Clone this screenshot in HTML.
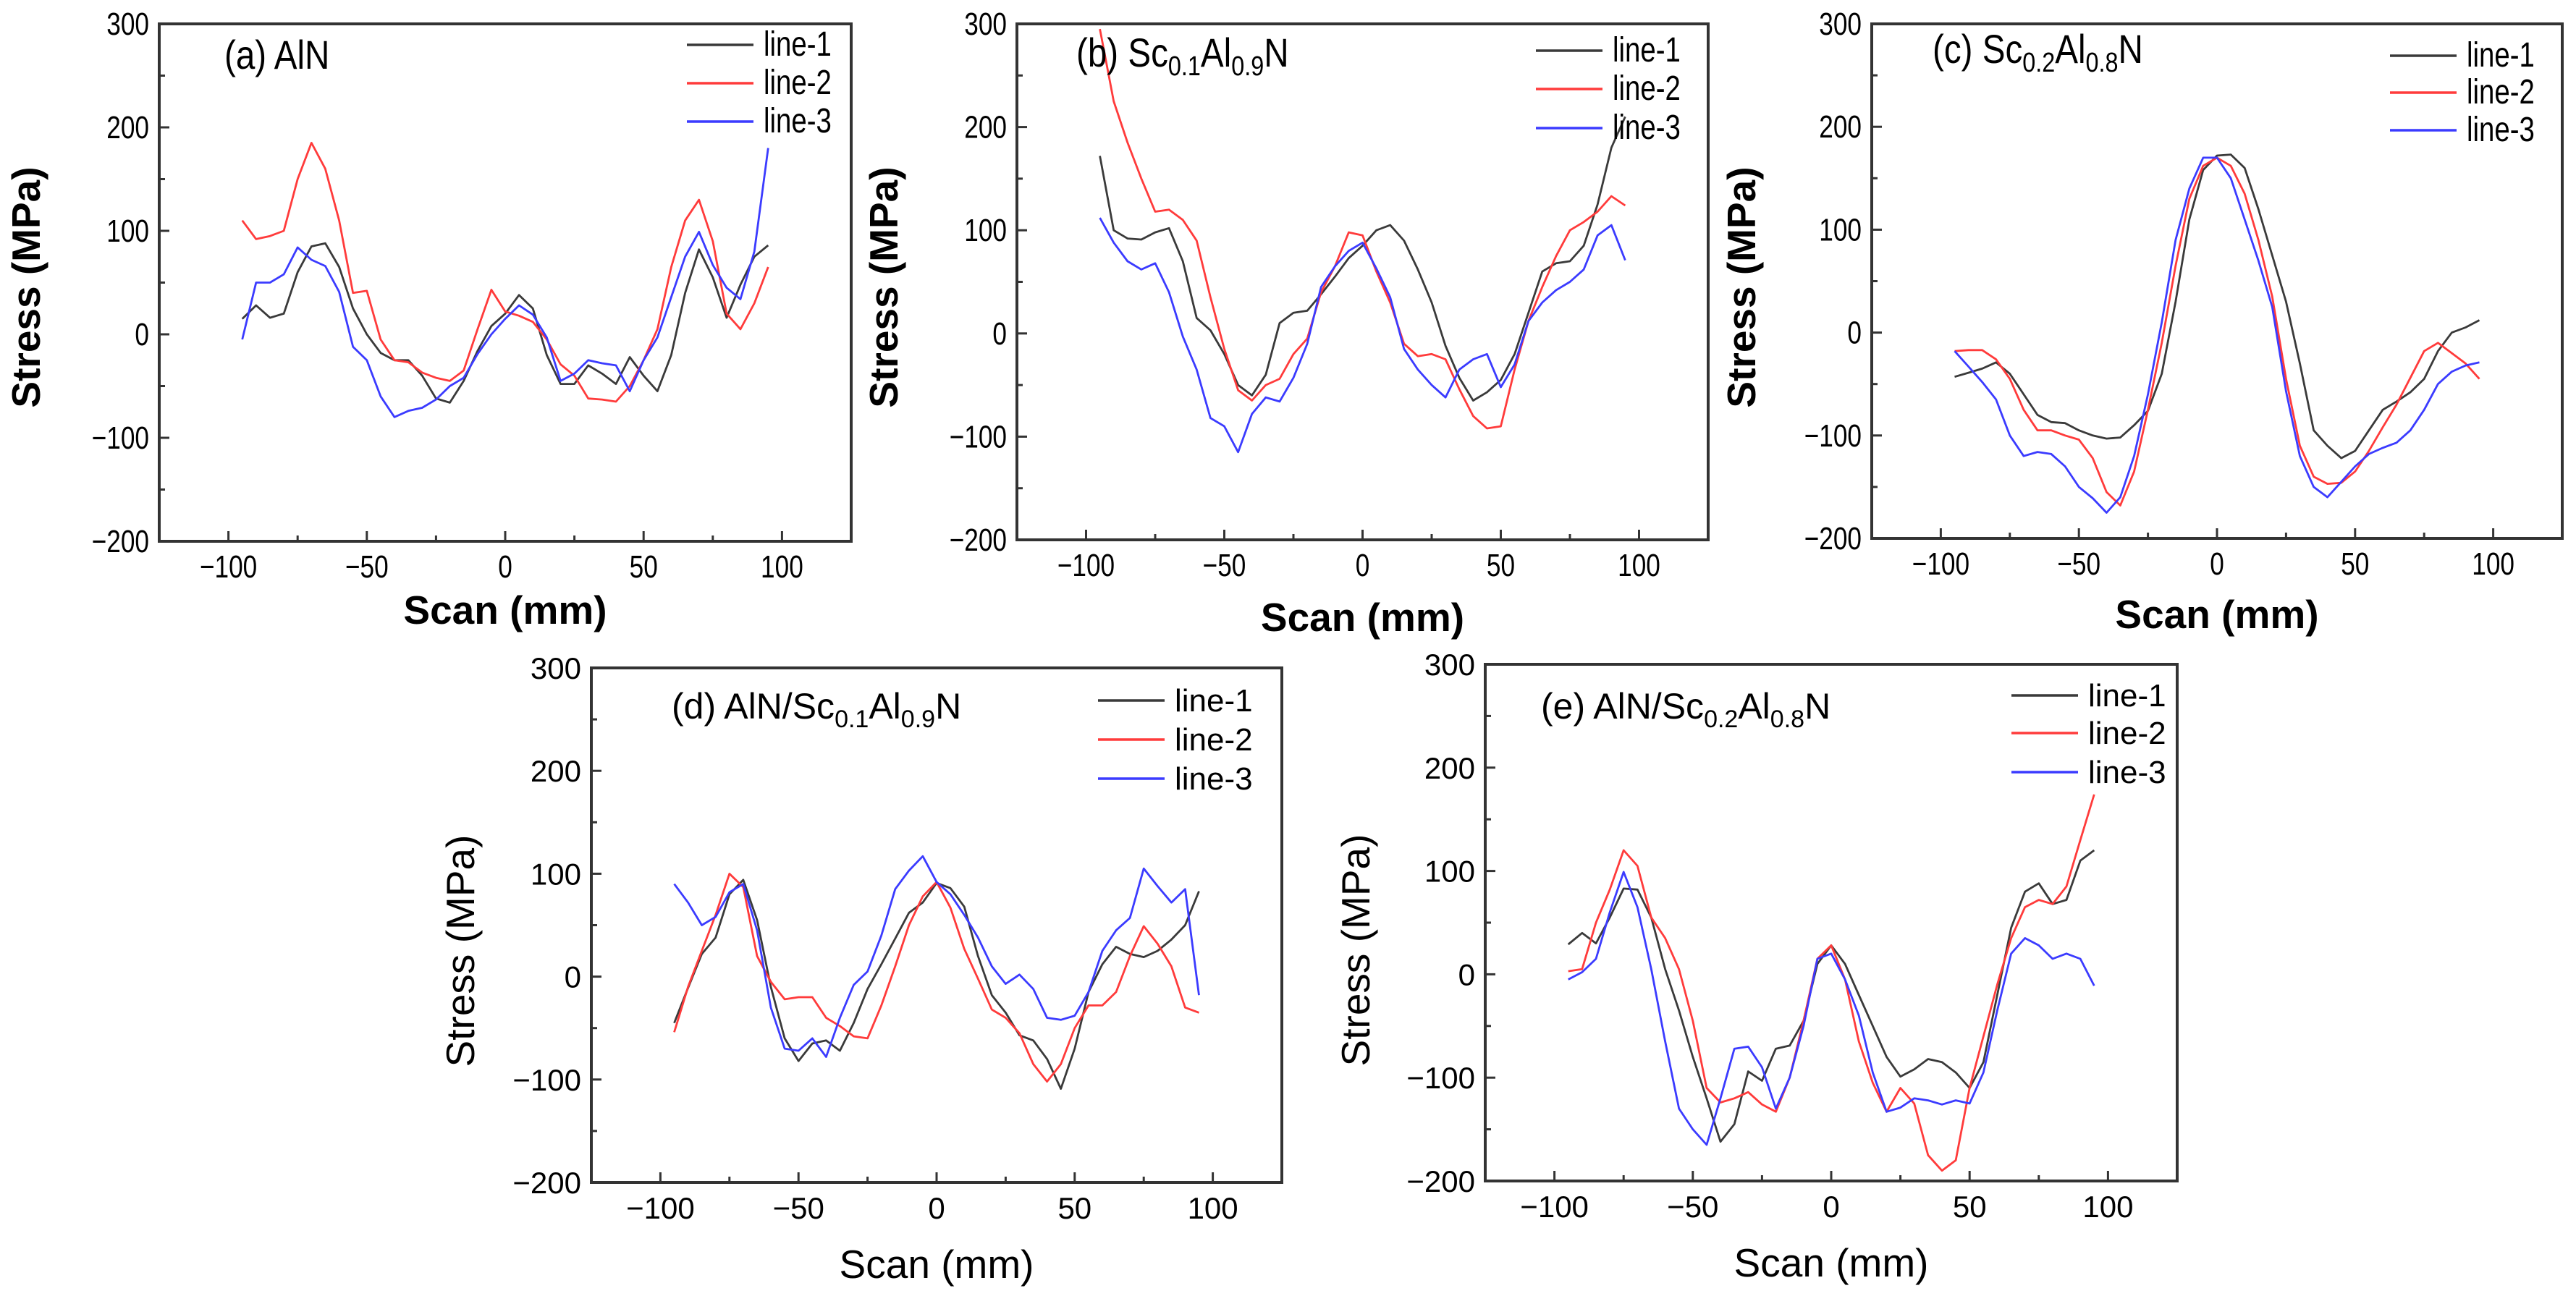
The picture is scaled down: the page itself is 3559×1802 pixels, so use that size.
<!DOCTYPE html>
<html><head><meta charset="utf-8"><style>
html,body{margin:0;padding:0;background:#fff;}
svg{display:block;}
text{font-family:"Liberation Sans",Arial,sans-serif;fill:#000;}
</style></head>
<body>
<svg id="fig" width="3559" height="1802" viewBox="0 0 3559 1802" xmlns="http://www.w3.org/2000/svg"></svg>
<script>
// ---- data (Scan mm -> Stress MPa) ----
const scan = [-95,-90,-85,-80,-75,-70,-65,-60,-55,-50,-45,-40,-35,-30,-25,-20,-15,-10,-5,0,5,10,15,20,25,30,35,40,45,50,55,60,65,70,75,80,85,90,95];
const xTicks = [-100,-50,0,50,100];
const yTicks = [-200,-100,0,100,200,300];
const seriesNames = ["line-1","line-2","line-3"];

const aLine1 = [15,28,16,20,60,85,88,65,25,0,-18,-25,-25,-40,-62,-66,-45,-16,8,20,38,25,-20,-48,-48,-30,-38,-48,-22,-40,-55,-20,40,82,55,16,48,75,86];
const aLine2 = [110,92,95,100,150,185,160,110,40,42,-5,-25,-27,-37,-42,-45,-35,5,43,22,18,12,-5,-29,-40,-62,-63,-65,-50,-25,5,65,110,130,90,20,5,30,65];
const aLine3 = [-5,50,50,58,84,72,66,41,-12,-25,-60,-80,-74,-71,-63,-50,-42,-19,0,15,28,19,-3,-45,-38,-25,-28,-30,-55,-25,-3,36,75,99,67,45,34,80,180];

const bLine1 = [172,100,92,91,98,102,70,15,3,-20,-50,-60,-40,10,20,22,38,55,73,85,100,105,90,62,30,-12,-43,-65,-57,-45,-20,20,60,68,70,85,125,180,210];
const bLine2 = [295,225,185,150,118,120,110,90,35,-15,-55,-65,-50,-44,-20,-5,40,65,98,95,60,30,-10,-22,-20,-25,-54,-80,-92,-90,-35,12,45,75,100,108,118,133,124];
const bLine3 = [112,88,70,62,68,40,-3,-35,-82,-90,-115,-78,-62,-66,-43,-10,45,65,80,88,63,35,-15,-35,-50,-62,-35,-25,-20,-52,-30,12,30,42,50,62,95,105,71];

const cLine1 = [-43,-39,-35,-29,-40,-60,-80,-87,-88,-95,-100,-103,-102,-90,-76,-40,30,110,158,172,173,160,120,75,30,-30,-95,-110,-122,-115,-95,-75,-67,-58,-45,-18,0,5,12];
const cLine2 = [-18,-17,-17,-26,-45,-75,-95,-95,-100,-104,-122,-155,-168,-135,-75,-10,65,130,162,170,162,135,90,35,-45,-110,-140,-147,-146,-135,-115,-92,-70,-44,-18,-10,-20,-30,-45];
const cLine3 = [-18,-33,-48,-65,-100,-120,-116,-118,-130,-150,-161,-175,-160,-120,-60,10,90,140,170,170,150,110,70,25,-57,-120,-150,-160,-145,-130,-118,-112,-107,-95,-75,-50,-38,-32,-29];

const dLine1 = [-45,-11,22,38,80,94,55,-10,-60,-82,-65,-62,-72,-45,-12,12,37,62,72,91,86,68,20,-18,-35,-57,-62,-80,-109,-70,-15,12,29,22,19,25,36,50,83];
const dLine2 = [-54,-10,25,60,100,87,20,-5,-22,-20,-20,-40,-48,-58,-60,-28,10,50,78,92,67,27,-2,-32,-40,-55,-85,-102,-85,-50,-28,-28,-15,20,49,32,10,-30,-35];
const dLine3 = [90,72,50,58,82,90,45,-30,-70,-72,-60,-78,-40,-8,5,40,85,103,117,92,80,60,38,10,-7,2,-12,-40,-42,-38,-15,25,45,57,105,88,72,85,-18];

const eLine1 = [29,40,30,55,83,82,55,5,-35,-80,-120,-162,-145,-94,-103,-72,-69,-45,10,28,10,-20,-50,-80,-99,-92,-82,-85,-95,-110,-85,-20,45,80,88,68,72,110,120];
const eLine2 = [3,5,50,82,120,105,55,35,5,-45,-110,-124,-120,-114,-126,-133,-100,-45,15,28,-5,-65,-105,-133,-110,-125,-175,-190,-180,-110,-60,-10,35,65,72,68,85,130,174];
const eLine3 = [-5,2,15,60,99,65,5,-65,-130,-150,-165,-120,-72,-70,-90,-130,-100,-50,15,20,-5,-40,-95,-133,-129,-120,-122,-126,-122,-125,-95,-35,20,35,28,15,20,15,-11];

// ---- layout (not data) ----
const NS = "http://www.w3.org/2000/svg";
const svg = document.getElementById("fig");
const colors = ["#3a3a3a","#ff3b3b","#3b3bff"];
function mk(tag, attrs, parent){
  const el = document.createElementNS(NS, tag);
  for (const k in attrs) el.setAttribute(k, attrs[k]);
  (parent||svg).appendChild(el);
  return el;
}
const panels = [
  {id:"a", L:220, R:1176, T:33, B:748, narrow:true, series:[aLine1,aLine2,aLine3],
   title:[["(a) AlN",0]], tx:310, ty:95, legX:949, legY:[62,115,168],
   yTitleX:36, yTitleY:397, xTitleY:862},
  {id:"b", L:1405, R:2360, T:33, B:746, narrow:true, series:[bLine1,bLine2,bLine3],
   title:[["(b) Sc",0],["0.1",1],["Al",0],["0.9",1],["N",0]], tx:1487, ty:92, legX:2122, legY:[70,123,177],
   yTitleX:1221, yTitleY:397, xTitleY:872},
  {id:"c", L:2586, R:3540, T:33, B:744, narrow:true, series:[cLine1,cLine2,cLine3],
   title:[["(c) Sc",0],["0.2",1],["Al",0],["0.8",1],["N",0]], tx:2670, ty:87, legX:3302, legY:[77,128,180],
   yTitleX:2406, yTitleY:397, xTitleY:868},
  {id:"d", L:817, R:1771, T:923, B:1634, narrow:false, series:[dLine1,dLine2,dLine3],
   title:[["(d) AlN/Sc",0],["0.1",1],["Al",0],["0.9",1],["N",0]], tx:928, ty:993, legX:1517, legY:[968,1022,1076],
   yTitleX:636, yTitleY:1314, xTitleY:1766},
  {id:"e", L:2052, R:3008, T:918, B:1632, narrow:false, series:[eLine1,eLine2,eLine3],
   title:[["(e) AlN/Sc",0],["0.2",1],["Al",0],["0.8",1],["N",0]], tx:2129, ty:993, legX:2779, legY:[961,1013,1067],
   yTitleX:1873, yTitleY:1313, xTitleY:1764}
];

function narrowText(g, str, x, y, size, anchor, narrow){
  const t = mk("text", {"font-size":size, "text-anchor":anchor,
    transform:"translate("+x+","+y+") scale("+(narrow?0.8:1)+",1)"}, g);
  t.textContent = str;
  return t;
}

panels.forEach(p=>{
  const g = mk("g", {});
  
  
  const xs = v => p.L + (v + 125) / 250 * (p.R - p.L);
  const ys = v => p.B - (v + 200) / 500 * (p.B - p.T);

  p.series.forEach((vals, si)=>{
    let d = "";
    scan.forEach((x,i)=>{ d += (i? "L":"M") + xs(x).toFixed(1) + "," + ys(vals[i]).toFixed(1); });
    const path = mk("path", {d:d, fill:"none", stroke:colors[si], "stroke-width":2.8, "stroke-linejoin":"round"}, g);
    
    
  });

  const frame = mk("rect", {x:p.L, y:p.T, width:p.R-p.L, height:p.B-p.T, fill:"none", stroke:"#333", "stroke-width":4}, g);
  
  

  const xt = mk("g", {}, g);
  
  
  for (let v=-100; v<=100; v+=25){
    const major = v % 50 === 0;
    mk("line", {x1:xs(v), x2:xs(v), y1:p.B, y2:p.B-(major?14:8), stroke:"#333", "stroke-width":3}, xt);
  }
  xTicks.forEach(v=>{
    const lab = v<0 ? "\u2212"+(-v) : String(v);
    narrowText(xt, lab, xs(v), p.B+50, p.narrow?44:42, "middle", p.narrow);
  });
  const yt = mk("g", {}, g);
  
  
  for (let v=-150; v<=250; v+=50){
    const major = v % 100 === 0;
    mk("line", {x1:p.L, x2:p.L+(major?14:8), y1:ys(v), y2:ys(v), stroke:"#333", "stroke-width":3}, yt);
  }
  yTicks.forEach(v=>{
    const lab = v<0 ? "\u2212"+(-v) : String(v);
    narrowText(yt, lab, p.L-14, ys(v)+15, p.narrow?44:42, "end", p.narrow);
  });

  const xTitle = mk("text", {x:(p.L+p.R)/2, y:p.xTitleY, "font-size":55, "text-anchor":"middle", "font-weight":p.narrow?"bold":"normal"}, g);
  xTitle.textContent = "Scan (mm)";
  
  
  const yTitle = mk("text", {x:0, y:0, "font-size":55, "text-anchor":"middle", "dominant-baseline":"central",
    "font-weight":p.narrow?"bold":"normal",
    transform:"translate("+p.yTitleX+","+p.yTitleY+") rotate(-90)"}, g);
  yTitle.textContent = "Stress (MPa)";
  
  

  const tsize = p.narrow ? 56 : 50;
  const title = mk("text", {"font-size":tsize,
    transform:"translate("+p.tx+","+p.ty+") scale("+(p.narrow?0.85:1)+",1)"}, g);
  
  
  let prevSub = 0;
  p.title.forEach(([s,sub])=>{
    const ts = mk("tspan", {"font-size": sub? tsize*0.68 : tsize, dy: (sub - prevSub)*12}, title);
    ts.textContent = s;
    prevSub = sub;
  });

  const lg = mk("g", {}, g);
  
  
  seriesNames.forEach((n,i)=>{
    const y = p.legY[i];
    const it = mk("g", {}, lg);
    
    
    mk("line", {x1:p.legX, x2:p.legX+92, y1:y, y2:y, stroke:colors[i], "stroke-width":3.5}, it);
    narrowText(it, n, p.legX+106, y+15, p.narrow?48:44, "start", p.narrow);
  });
});
</script>
</body></html>
